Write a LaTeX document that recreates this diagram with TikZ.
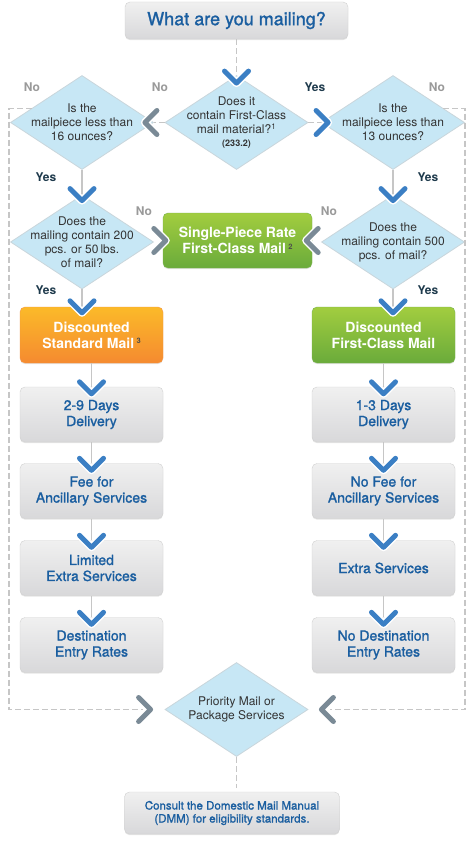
\documentclass[tikz,border=0pt]{standalone}
\usepackage{fontspec}
\setmainfont{TeX Gyre Heros}
\newfontfamily\medfont[RawFeature={embolden=1.3}]{TeX Gyre Heros}
\usetikzlibrary{shapes.geometric, positioning, calc, shadows}
\definecolor{mailblue}{HTML}{1A5EA0}
\definecolor{chevblue}{HTML}{3B7FC4}
\definecolor{chevgray}{HTML}{7A8A96}
\definecolor{linegray}{HTML}{C6C6C6}
\definecolor{qfill}{HTML}{C7E7F5}
\definecolor{qdraw}{HTML}{C9D6DC}
\definecolor{boxtop}{HTML}{F0F0F0}
\definecolor{boxbot}{HTML}{D8D8DA}
\definecolor{greentop}{HTML}{A2CD3F}
\definecolor{greenbot}{HTML}{6AAB3B}
\definecolor{orangetop}{HTML}{FBBA29}
\definecolor{orangebot}{HTML}{F58A30}
\definecolor{yescol}{HTML}{1E3A4C}
\definecolor{nocol}{HTML}{9A9A9A}
\newcommand{\note}[1]{\raisebox{4.5pt}{\color{black!70}\bfseries\fontsize{7.5}{7.5}\selectfont #1}}
\tikzset{
	question/.style={diamond, draw=qdraw, fill=qfill, line width=.8pt, minimum width=143pt, minimum height=94pt, inner sep=0pt},
	qtext/.style={align=center, inner sep=0pt, font=\fontsize{12}{14}\selectfont, text=black!80},
	infobox/.style={rectangle, rounded corners=5pt, draw=black!18, top color=boxtop, bottom color=boxbot, minimum width=143pt, minimum height=55pt, align=center, text=mailblue, font=\medfont\fontsize{14}{16}\selectfont, drop shadow={shadow xshift=0pt, shadow yshift=-1.2pt, opacity=.2}},
	greenbox/.style={infobox, draw=greenbot!90, top color=greentop, bottom color=greenbot, text=white, font=\rmfamily\bfseries\fontsize{14}{16}\selectfont},
	orangebox/.style={infobox, draw=orangebot!90, top color=orangetop, bottom color=orangebot, text=white, font=\rmfamily\bfseries\fontsize{14}{16}\selectfont},
	flow/.style={draw=linegray, line width=1.3pt},
	skip/.style={draw=linegray, line width=1.3pt, dash pattern=on 6pt off 3pt},
	yeslabel/.style={font=\bfseries\fontsize{12}{14}\selectfont, text=yescol},
	nolabel/.style={font=\bfseries\fontsize{12}{14}\selectfont, text=nocol},
	chev/.pic={
		\draw[white, line width=8pt, line cap=round, line join=round] (-12,-6) -- (0,6) -- (12,-6);
		\draw[pic actions, line width=5pt, line cap=round, line join=round] (-12,-6) -- (0,6) -- (12,-6);
	}
}
\begin{document}
\begin{tikzpicture}[x=1pt, y=-1pt]
	\useasboundingbox (0,0) rectangle (474,859);
	\fill[white] (0,0) rectangle (474,859);
	%Start
	\node[infobox, minimum width=223pt, minimum height=37pt, font=\medfont\fontsize{18}{20}\selectfont] (title) at (236.5,20.5) {What are you mailing?};
	%Fragen
	\node[question, label={[qtext]center:{Does it\\contain First-Class\\mail material?\textsuperscript{1}\\[-1pt]{\bfseries\fontsize{9}{11}\selectfont(233.2)}}}] (q1st) at (236.5,122.5) {};
	\node[question, label={[qtext]center:{Is the\\mailpiece less than\\16 ounces?}}] (q16) at (82,122.5) {};
	\node[question, label={[qtext]center:{Is the\\mailpiece less than\\13 ounces?}}] (q13) at (393,122.5) {};
	\node[question, label={[qtext]center:{Does the\\mailing contain 200\\pcs. or 50\,lbs.\\of mail?}}] (q200) at (82,242) {};
	\node[question, label={[qtext]center:{Does the\\mailing contain 500\\pcs. of mail?}}] (q500) at (393,242) {};
	\node[question, label={[qtext]center:{Priority Mail or\\Package Services}}] (prio) at (236.5,709.5) {};
	%Ergebnisse
	\node[greenbox, minimum width=149pt] (single) at (237.5,240.5) {Single-Piece Rate\\First-Class Mail\,\note{2}};
	\node[orangebox, minimum height=56pt] (dstd) at (91.5,335) {Discounted\\Standard Mail\,\note{3}};
	\node[greenbox, minimum height=56pt] (dfc) at (383.5,335) {Discounted\\First-Class Mail};
	\foreach \i/\y/\txt in {1/414.5/{2-9 Days\\Delivery}, 2/491/{Fee for\\Ancillary Services}, 3/568/{Limited\\Extra Services}, 4/645/{Destination\\Entry Rates}}
		\node[infobox] (left\i) at (91.5,\y) {\txt};
	\foreach \i/\y/\txt in {1/414.5/{1-3 Days\\Delivery}, 2/491/{No Fee for\\Ancillary Services}, 3/568/{Extra Services}, 4/645/{No Destination\\Entry Rates}}
		\node[infobox] (right\i) at (383.5,\y) {\txt};
	\node[infobox, minimum width=215pt, minimum height=42pt, font=\medfont\fontsize{11.5}{13}\selectfont] (dmm) at (232,813) {Consult the Domestic Mail Manual\\(DMM) for eligibility standards.};
	%Labels
	\node[nolabel] (no16) at (32,87) {No};
	\node[nolabel] (no1st) at (160,87) {No};
	\node[yeslabel] (yes1st) at (315,87) {Yes};
	\node[nolabel] (no13) at (437,87) {No};
	\node[yeslabel] (yes16) at (46,177) {Yes};
	\node[yeslabel] (yes13) at (428,177) {Yes};
	\node[nolabel] (no200) at (144,211) {No};
	\node[nolabel] (no500) at (329,211) {No};
	\node[yeslabel] (yes200) at (46,290) {Yes};
	\node[yeslabel] (yes500) at (428,290) {Yes};
	%Verbindungen oben
	\draw[skip] (title) -- (q1st);
	\draw[skip] (q1st) -- (q16);
	\draw[skip] (q1st) -- (q13);
	\draw[flow] (q16) -- (q200);
	\draw[flow] (q13) -- (q500);
	\draw[flow] (q200.south) -- (q200.south |- dstd.north);
	\draw[flow] (q500.south) -- (q500.south |- dfc.north);
	%Spalten
	\foreach \a/\b in {dstd/left1, left1/left2, left2/left3, left3/left4, dfc/right1, right1/right2, right2/right3, right3/right4} {
		\draw[flow] (\a) -- (\b);
		\pic[draw=chevblue] at ($(\b.north)+(0,1)$) {chev};
	}
	%Priority Mail
	\coordinate (leftrail) at (9,0);
	\coordinate (rightrail) at (465,0);
	\coordinate (l16) at ($(q16.west)!.3!(q16.north)$);
	\coordinate (l13) at ($(q13.east)!.3!(q13.north)$);
	\draw[skip] (l16) -- (l16 -| leftrail) -- (leftrail |- prio.west) -- ($(prio.west)+(-22,0)$);
	\draw[skip] (l13) -- (l13 -| rightrail) -- (rightrail |- prio.east) -- ($(prio.east)+(22,0)$);
	\draw[skip] (prio.south) -- ($(prio.south |- dmm.north)+(0,-4)$);
	%Pfeile
	\pic[draw=chevblue] at ($(q1st.north)+(0,2)$) {chev};
	\pic[draw=chevgray, rotate=-90] at ($(q16.east)+(-3,0)$) {chev};
	\pic[draw=chevblue, rotate=90] at ($(q13.west)+(1,0)$) {chev};
	\pic[draw=chevblue] at (q200.north) {chev};
	\pic[draw=chevblue] at (q500.north) {chev};
	\pic[draw=chevgray, rotate=90] at ($(single.west)+(-3,0)$) {chev};
	\pic[draw=chevgray, rotate=-90] at ($(single.east)+(0,0)$) {chev};
	\pic[draw=chevblue] at (q200.south |- dstd.north) {chev};
	\pic[draw=chevblue] at (q500.south |- dfc.north) {chev};
	\pic[draw=chevgray, rotate=90] at ($(prio.west)+(-20,0)$) {chev};
	\pic[draw=chevgray, rotate=-90] at ($(prio.east)+(19,0)$) {chev};
\end{tikzpicture}
\end{document}
